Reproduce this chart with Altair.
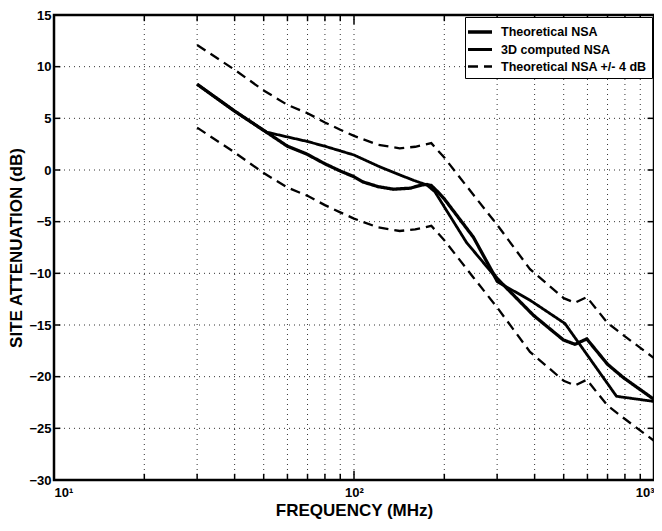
import altair as alt
import pandas as pd

# ---- data ----
theo_f = [30, 40, 51, 60, 69.5, 80, 90, 100, 107, 120, 135, 154, 168, 175, 181, 190, 200, 250, 291, 300, 396, 499, 545, 597, 700, 791, 1000]
theo_db = [8.3, 5.7, 3.67, 2.3, 1.55, 0.6, -0.1, -0.65, -1.15, -1.6, -1.86, -1.76, -1.45, -1.4, -1.5, -2.1, -2.8, -6.5, -10.0, -10.5, -14.05, -16.45, -16.87, -16.35, -18.8, -20.1, -22.2]

comp_f = [30, 40, 51, 55, 60, 69.5, 80, 90, 100, 122, 140, 158, 175, 186, 237, 291, 300, 386, 505, 750, 1000]
comp_db = [8.3, 5.7, 3.67, 3.45, 3.2, 2.78, 2.3, 1.85, 1.45, 0.3, -0.4, -1.0, -1.45, -2.1, -7.0, -10.1, -10.8, -12.6, -14.86, -21.9, -22.4]

band_f = [30, 40, 50, 60, 70, 80, 90, 100, 120, 142, 160, 181, 200, 250, 300, 386, 500, 545, 597, 700, 800, 1000]
upper_db = [12.1, 9.7, 7.7, 6.3, 5.5, 4.6, 3.9, 3.3, 2.45, 2.1, 2.25, 2.6, 1.2, -2.4, -5.3, -9.6, -12.4, -12.85, -12.3, -14.8, -16.1, -18.2]
lower_db = [4.1, 1.7, -0.3, -1.7, -2.5, -3.4, -4.1, -4.7, -5.55, -5.9, -5.75, -5.4, -6.8, -10.4, -13.3, -17.6, -20.4, -20.85, -20.3, -22.8, -24.1, -26.2]

series_names = ["Theoretical NSA", "3D computed NSA", "Theoretical NSA +/- 4 dB"]

x_major = [10, 100, 1000]
x_grid = [20, 30, 40, 50, 60, 70, 80, 90, 100, 200, 300, 400, 500, 600, 700, 800, 900]
y_ticks = [-30, -25, -20, -15, -10, -5, 0, 5, 10, 15]
y_grid = [-25, -20, -15, -10, -5, 0, 5, 10]

# ---- build tables ----
rows = []
for f, v in zip(theo_f, theo_db):
    rows.append({"freq": f, "db": v, "series": series_names[0], "part": "t"})
for f, v in zip(comp_f, comp_db):
    rows.append({"freq": f, "db": v, "series": series_names[1], "part": "c"})
for f, v in zip(band_f, upper_db):
    rows.append({"freq": f, "db": v, "series": series_names[2], "part": "u"})
for f, v in zip(band_f, lower_db):
    rows.append({"freq": f, "db": v, "series": series_names[2], "part": "l"})
df = pd.DataFrame(rows)

FONT = "Liberation Sans"
xscale = alt.Scale(type="log", domain=[10, 1000], nice=False)
yscale = alt.Scale(domain=[-30, 15], nice=False, zero=False)

xaxis = alt.Axis(values=x_major, labelExpr="datum.value == 10 ? '10¹' : datum.value == 100 ? '10²' : '10³'",
                 grid=False, ticks=False, domain=False, title="FREQUENCY (MHz)",
                 labelFont=FONT, labelFontWeight="bold", labelFontSize=13, labelColor="black",
                 titleFont=FONT, titleFontWeight="bold", titleFontSize=17, titleColor="black",
                 labelPadding=6, titlePadding=3)
yaxis = alt.Axis(values=y_ticks, grid=False, ticks=False, domain=False, title="SITE ATTENUATION (dB)",
                 labelFont=FONT, labelFontWeight="bold", labelFontSize=13, labelColor="black",
                 titleFont=FONT, titleFontWeight="bold", titleFontSize=17, titleColor="black",
                 labelPadding=3, titlePadding=3)

# grid lines
vgrid = alt.Chart(pd.DataFrame({"freq": x_grid})).mark_rule(
    color="#333", strokeWidth=1, strokeDash=[1, 4]
).encode(x=alt.X("freq:Q", scale=xscale, axis=xaxis), y=alt.datum(-30), y2=alt.datum(15))

hgrid = alt.Chart(pd.DataFrame({"db": y_grid})).mark_rule(
    color="#333", strokeWidth=1, strokeDash=[1, 4]
).encode(y=alt.Y("db:Q", scale=yscale, axis=yaxis), x=alt.datum(10), x2=alt.datum(1000))

# inward ticks
tick_rows = []
for f in x_grid:
    L = 0.9 if f == 100 else 0.6
    tick_rows.append({"freq": f, "y1": -30, "y2": -30 + L})
    tick_rows.append({"freq": f, "y1": 15, "y2": 15 - L})
xticks = alt.Chart(pd.DataFrame(tick_rows)).mark_rule(color="black", strokeWidth=1.5).encode(
    x=alt.X("freq:Q", scale=xscale), y=alt.Y("y1:Q", scale=yscale), y2="y2:Q")

ytick_rows = []
for v in y_grid:
    ytick_rows.append({"db": v, "x1": 10, "x2": 10.5})
    ytick_rows.append({"db": v, "x1": 1000, "x2": 952})
yticks = alt.Chart(pd.DataFrame(ytick_rows)).mark_rule(color="black", strokeWidth=1.5).encode(
    y=alt.Y("db:Q", scale=yscale), x=alt.X("x1:Q", scale=xscale), x2="x2:Q")

legend = alt.Legend(title=None, orient="top-right", fillColor="white", strokeColor="black",
                    padding=5, offset=2, labelFont=FONT, labelFontWeight="bold", labelFontSize=12.5,
                    labelColor="black", symbolType="M-1.5,0H1.5", symbolSize=256,
                    symbolStrokeColor="black", symbolFillColor="transparent",
                    rowPadding=1, cornerRadius=0, labelOffset=11)

lines = alt.Chart(df).mark_line(color="black", strokeCap="butt").encode(
    x=alt.X("freq:Q", scale=xscale),
    y=alt.Y("db:Q", scale=yscale),
    detail="part:N",
    strokeDash=alt.StrokeDash("series:N", scale=alt.Scale(domain=series_names, range=[[1, 0], [1, 0], [10, 6]]), legend=legend),
    strokeWidth=alt.StrokeWidth("series:N", scale=alt.Scale(domain=series_names, range=[3.3, 2.3, 3.5]), legend=legend),
    order=alt.Order("freq:Q"),
)

chart = alt.layer(vgrid, hgrid, xticks, yticks, lines).properties(
    width=600, height=465,
    autosize=alt.AutoSizeParams(type="none"),
    padding={"left": 46, "right": 0, "top": 7, "bottom": 43},
    background="white",
).configure_view(stroke="black", strokeWidth=2.5)

chart.save("out.html", embed_options={"renderer": "svg", "actions": False})
